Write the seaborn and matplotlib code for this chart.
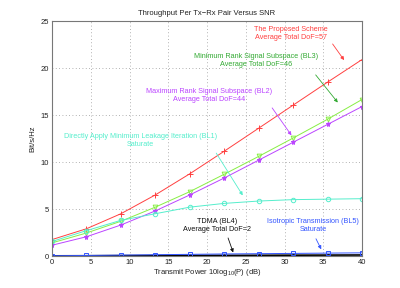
import numpy as np
import pandas as pd
import matplotlib
matplotlib.use("Agg")
import matplotlib.pyplot as plt
import seaborn as sns

power_db = [0, 4.44, 8.89, 13.33, 17.78, 22.22, 26.67, 31.11, 35.56, 40]
proposed = [1.75, 2.9, 4.5, 6.5, 8.75, 11.15, 13.6, 16.05, 18.5, 20.9]
bl3 = [1.4, 2.45, 3.7, 5.2, 6.85, 8.7, 10.6, 12.55, 14.55, 16.65]
bl2 = [1.15, 2.05, 3.3, 4.8, 6.5, 8.3, 10.2, 12.1, 14.0, 15.9]
bl1 = [1.55, 2.7, 3.8, 4.5, 5.2, 5.6, 5.85, 6.0, 6.05, 6.1]
bl4 = [0.02, 0.03, 0.04, 0.05, 0.06, 0.07, 0.08, 0.09, 0.1, 0.11]
bl5 = [0.03, 0.06, 0.1, 0.14, 0.18, 0.22, 0.25, 0.28, 0.31, 0.34]

x_ticks = [0, 5, 10, 15, 20, 25, 30, 35, 40]
y_ticks = [0, 5, 10, 15, 20, 25]

sns.set_theme(style="white")
plt.rcParams['font.family'] = ['Liberation Sans', 'DejaVu Sans']
plt.rcParams['mathtext.fontset'] = 'custom'
plt.rcParams['mathtext.rm'] = 'Liberation Sans'
plt.rcParams['mathtext.it'] = 'Liberation Sans'

fig = plt.figure(figsize=(4.0, 2.88), dpi=100)
ax = fig.add_axes([0.13, 0.111, 0.775, 0.816])

series = [
    (proposed, '#ff4040', '+', 4.0),
    (bl3, '#88ee44', 'v', 3.4),
    (bl2, '#bb44ff', '*', 3.6),
    (bl1, '#55eecc', 'o', 3.2),
    (bl4, '#000000', '.', 2.0),
    (bl5, '#3355ff', 's', 2.8),
]
for vals, col, mk, ms in series:
    df = pd.DataFrame({'x': power_db, 'y': vals})
    lw = 1.2 if col == '#000000' else 0.7
    sns.lineplot(data=df, x='x', y='y', ax=ax, color=col, marker=mk,
                 markersize=ms, markerfacecolor='none' if mk in ('v', 'o', 's') else col,
                 markeredgecolor=col, markeredgewidth=0.7, linewidth=lw)

ax.set_xlim(0, 40)
ax.set_ylim(0, 25)
ax.set_xticks(x_ticks)
ax.set_yticks(y_ticks)
ax.tick_params(direction='in', length=2, labelsize=5.5, pad=2, colors='#222222')
ax.grid(True, linestyle=(0, (1, 3)), color='#999999', linewidth=0.6)
for s in ax.spines.values():
    s.set_color('#777777')
    s.set_linewidth(0.8)

ax.set_title('Throughput Per Tx\u2212Rx Pair Versus SNR', fontsize=5.5, pad=4, color='#222222')
ax.set_xlabel('Transmit Power 10log$_{10}$(P) (dB)', fontsize=5.5, labelpad=1, color='#222222')
ax.set_ylabel('Bit/s/Hz', fontsize=5.5, labelpad=3, color='#222222')

fs = 5.2
arrow_kw = dict(arrowstyle='-|>', lw=0.6, mutation_scale=5)

ax.text(30.8, 23.7, 'The Proposed Scheme\nAverage Total DoF=57', color='#ff4040', fontsize=fs, ha='center', va='center')
ax.annotate('', xy=(37.9, 20.6), xytext=(36.0, 22.8), arrowprops=dict(color='#ff4040', **arrow_kw))

ax.text(26.3, 20.8, 'Minimum Rank Signal Subspace (BL3)\nAverage Total DoF=46', color='#33aa33', fontsize=fs, ha='center', va='center')
ax.annotate('', xy=(37.1, 16.1), xytext=(33.8, 19.5), arrowprops=dict(color='#33aa33', **arrow_kw))

ax.text(20.3, 17.1, 'Maximum Rank Signal Subspace (BL2)\nAverage Total DoF=44', color='#bb44ff', fontsize=fs, ha='center', va='center')
ax.annotate('', xy=(31.1, 12.6), xytext=(28.2, 16.0), arrowprops=dict(color='#bb44ff', **arrow_kw))

ax.text(11.4, 12.3, 'Directly Apply Minimum Leakage Iteration (BL1)\nSaturate', color='#55eecc', fontsize=fs, ha='center', va='center')
ax.annotate('', xy=(24.8, 6.2), xytext=(21.0, 11.2), arrowprops=dict(color='#55eecc', **arrow_kw))

ax.text(21.3, 3.3, 'TDMA (BL4)\nAverage Total DoF=2', color='#111111', fontsize=fs, ha='center', va='center')
ax.annotate('', xy=(23.5, 0.1), xytext=(22.6, 2.2), arrowprops=dict(color='#111111', **arrow_kw))

ax.text(33.7, 3.3, 'Isotropic Transmission (BL5)\nSaturate', color='#3355ff', fontsize=fs, ha='center', va='center')
ax.annotate('', xy=(34.9, 0.45), xytext=(33.9, 2.1), arrowprops=dict(color='#3355ff', **arrow_kw))

fig.savefig('out.png', dpi=100)
